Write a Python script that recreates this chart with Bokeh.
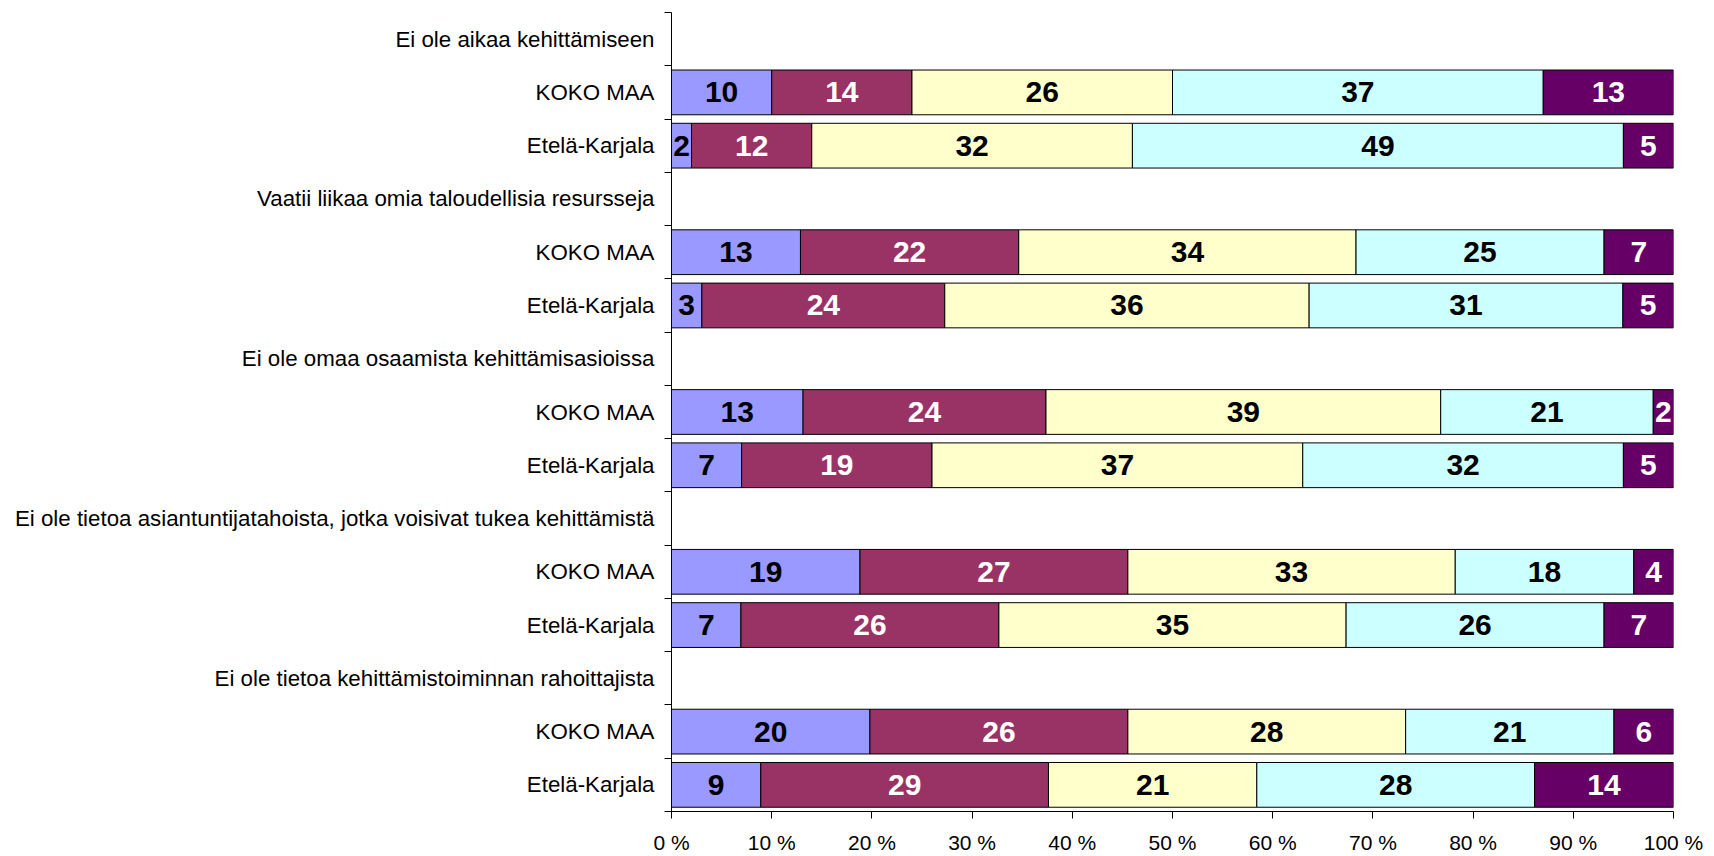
from bokeh.plotting import figure
from bokeh.models import ColumnDataSource, FixedTicker, Range1d
from bokeh.embed import file_html
from bokeh.resources import INLINE
from bokeh.core.properties import value

# ---------------- data ----------------
questions = [
    "Ei ole aikaa kehittämiseen",
    "Vaatii liikaa omia taloudellisia resursseja",
    "Ei ole omaa osaamista kehittämisasioissa",
    "Ei ole tietoa asiantuntijatahoista, jotka voisivat tukea kehittämistä",
    "Ei ole tietoa kehittämistoiminnan rahoittajista",
]
groups = ["KOKO MAA", "Etelä-Karjala"]

# one value per bar row, in order: q1 KOKO MAA, q1 Etelä-Karjala, q2 KOKO MAA, ...
series_1 = [10, 2, 13, 3, 13, 7, 19, 7, 20, 9]
series_2 = [14, 12, 22, 24, 24, 19, 27, 26, 26, 29]
series_3 = [26, 32, 34, 36, 39, 37, 33, 35, 28, 21]
series_4 = [37, 49, 25, 31, 21, 32, 18, 26, 21, 28]
series_5 = [13, 5, 7, 5, 2, 5, 4, 7, 6, 14]

series_colors = ["#9999FF", "#993366", "#FFFFCC", "#CCFFFF", "#660066"]
label_colors = ["black", "white", "black", "black", "white"]

x_ticks = [0, 10, 20, 30, 40, 50, 60, 70, 80, 90, 100]
x_tick_labels = ["0 %", "10 %", "20 %", "30 %", "40 %", "50 %", "60 %", "70 %", "80 %", "90 %", "100 %"]

FONT = "Liberation Sans"

# ---------------- layout of rows ----------------
row_labels = []
bar_rows = []  # y position for each bar row
n_rows = len(questions) * (1 + len(groups))
r = 0
for q in questions:
    row_labels.append(q)
    r += 1
    for g in groups:
        row_labels.append(g)
        bar_rows.append(n_rows - r - 0.5)
        r += 1

centers = [n_rows - i - 0.5 for i in range(n_rows)]
boundaries = [float(i) for i in range(n_rows + 1)]

all_series = [series_1, series_2, series_3, series_4, series_5]
totals = [sum(s[i] for s in all_series) for i in range(len(series_1))]

p = figure(
    width=1714, height=856,
    x_range=Range1d(0, 100), y_range=Range1d(0, n_rows),
    output_backend="svg", toolbar_location=None,
    min_border_left=671, min_border_right=41, min_border_top=12, min_border_bottom=41,
)
p.outline_line_color = None
p.xgrid.grid_line_color = None
p.ygrid.grid_line_color = None
p.background_fill_color = "white"
p.border_fill_color = "white"

cum = [0.0] * len(series_1)
for k, s in enumerate(all_series):
    left = [cum[i] for i in range(len(s))]
    right = [cum[i] + s[i] / totals[i] * 100.0 for i in range(len(s))]
    cum = right
    src = ColumnDataSource(dict(
        y=bar_rows, left=left, right=right,
        xm=[(a + b) / 2 for a, b in zip(left, right)],
        txt=[str(v) for v in s],
    ))
    p.hbar(y="y", left="left", right="right", height=0.84, source=src,
           fill_color=series_colors[k], line_color="black", line_width=1)
    p.text(x="xm", y="y", text="txt", source=src,
           text_font=value(FONT), text_font_style="bold", text_font_size="30px",
           text_color=label_colors[k], text_align="center", text_baseline="middle")

# y axis: labels at centers, tick marks at boundaries
p.yaxis.ticker = FixedTicker(ticks=centers, minor_ticks=boundaries)
p.yaxis.major_label_overrides = {c: lab for c, lab in zip(centers, row_labels)}
p.yaxis.major_tick_out = 0
p.yaxis.major_tick_in = 0
p.yaxis.minor_tick_out = 7
p.yaxis.minor_tick_in = 0
p.yaxis.minor_tick_line_color = "black"
p.yaxis.major_label_standoff = 10
p.yaxis.major_label_text_font = FONT
p.yaxis.major_label_text_font_size = "22.3px"
p.yaxis.major_label_text_color = "black"
p.yaxis.axis_line_color = "black"

# x axis
p.xaxis.ticker = FixedTicker(ticks=x_ticks)
p.xaxis.major_label_overrides = {t: lab for t, lab in zip(x_ticks, x_tick_labels)}
p.xaxis.major_tick_out = 7
p.xaxis.major_tick_in = 0
p.xaxis.minor_tick_line_color = None
p.xaxis.major_label_standoff = 12
p.xaxis.major_label_text_font = FONT
p.xaxis.major_label_text_font_size = "21px"
p.xaxis.major_label_text_color = "black"
p.xaxis.axis_line_color = "black"

open("out.html", "w").write(file_html(p, INLINE))
